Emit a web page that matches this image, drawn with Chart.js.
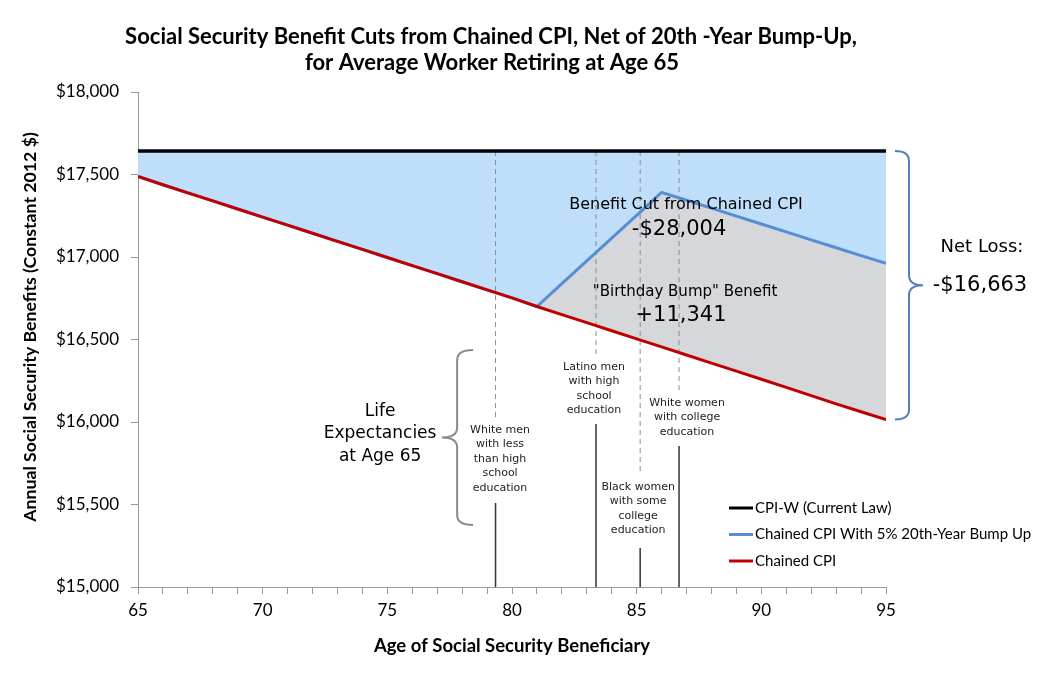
<!DOCTYPE html>
<html>
<head>
<meta charset="utf-8">
<script src="https://cdn.jsdelivr.net/npm/chart.js@4.4.1/dist/chart.umd.min.js"></script>
<style>
  html, body { margin: 0; background: #fff; }
</style>
</head>
<body>
<canvas id="chart" width="1043" height="680"></canvas>
<script>
// data
const ages = [65, 66, 67, 68, 69, 70, 71, 72, 73, 74, 75, 76, 77, 78, 79, 80,
  81, 82, 83, 84, 85, 86, 87, 88, 89, 90, 91, 92, 93, 94, 95];
const cpiW = ages.map(() => 17642);
const chained = [17488, 17438, 17389, 17340, 17291, 17242, 17193, 17144, 17095, 17046, 16997,
  16948, 16899, 16850, 16801, 16752, 16700, 16651, 16602, 16553, 16504, 16455, 16406, 16357,
  16308, 16259, 16210, 16160, 16110, 16062, 16015];
const chainedBump = [17488, 17438, 17389, 17340, 17291, 17242, 17193, 17144, 17095, 17046, 16997,
  16948, 16899, 16850, 16801, 16752, 16700, 16838, 16976, 17114, 17252, 17392, 17344, 17296,
  17248, 17200, 17152, 17104, 17056, 17008, 16962];
const seriesNames = ['CPI-W (Current Law)', 'Chained CPI With 5% 20th-Year Bump Up', 'Chained CPI'];

// life expectancy at 65 by group
const lifeAges = [79.34, 83.37, 85.14, 86.70];
const lifeLabels = [
  ['White men', 'with less', 'than high', 'school', 'education'],
  ['Latino men', 'with high', 'school', 'education'],
  ['Black women', 'with some', 'college', 'education'],
  ['White women', 'with college', 'education']
];
// where the dashed part stops and the solid part starts (value axis)
const dashEnds = [16024, 16394, 15691, 16194];
const solidStarts = [15509, 15988, 15236, 15855];

const netLoss = '-$16,663';
const cutText = '-$28,004';
const bumpText = '+11,341';

const BLACK = '#000000', BLUE = '#558ed5', RED = '#c00000';
const FILL_BLUE = '#bfdefa', FILL_GRAY = '#d5d7da';
const AXIS = '#999999';

const pts = (ys) => ages.map((a, i) => ({ x: a, y: ys[i] }));

// lower order is drawn on top: red over blue over black
const datasets = [
  { label: seriesNames[0], data: pts(cpiW), borderColor: BLACK, borderWidth: 3.5,
    fill: { target: 1 }, backgroundColor: FILL_BLUE, order: 2 },
  { label: seriesNames[1], data: pts(chainedBump), borderColor: BLUE, borderWidth: 3,
    fill: { target: 2 }, backgroundColor: FILL_GRAY, order: 1 },
  { label: seriesNames[2], data: pts(chained), borderColor: RED, borderWidth: 3, fill: false, order: 0 }
];
lifeAges.forEach((a, i) => {
  datasets.push({ label: 'dash' + i, data: [{ x: a, y: cpiW[0] }, { x: a, y: dashEnds[i] }],
    borderColor: '#8c8c8c', borderWidth: 1, borderDash: [5, 4], fill: false, order: 5 });
  datasets.push({ label: 'solid' + i, data: [{ x: a, y: 15000 }, { x: a, y: solidStarts[i] }],
    borderColor: '#333333', borderWidth: 1.5, fill: false, order: 5 });
});

function brace(ctx, spineX, endX, tipX, y1, y2, r) {
  const mid = (y1 + y2) / 2;
  ctx.beginPath();
  ctx.moveTo(endX, y1);
  ctx.quadraticCurveTo(spineX, y1, spineX, y1 + r);
  ctx.lineTo(spineX, mid - r);
  ctx.quadraticCurveTo(spineX, mid, tipX, mid);
  ctx.quadraticCurveTo(spineX, mid, spineX, mid + r);
  ctx.lineTo(spineX, y2 - r);
  ctx.quadraticCurveTo(spineX, y2, endX, y2);
  ctx.stroke();
}

const annotations = {
  id: 'annotations',
  afterDatasetsDraw(chart) {
    const { ctx, chartArea } = chart;
    const px = v => chart.scales.x.getPixelForValue(v);
    const py = v => chart.scales.y.getPixelForValue(v);
    ctx.save();
    ctx.textAlign = 'center';
    ctx.textBaseline = 'middle';
    ctx.fillStyle = '#000';

    ctx.font = '16px "DejaVu Sans"';
    ctx.fillText('Benefit Cut from Chained CPI', px(86.98), py(17315));
    ctx.font = '15px "DejaVu Sans"';
    ctx.fillText('"Birthday Bump" Benefit', px(86.94), py(16788));
    ctx.font = '21px "DejaVu Sans"';
    ctx.fillText(cutText, px(86.70), py(17164));
    ctx.fillText(bumpText, px(86.78), py(16648));

    // small group labels
    ctx.font = '11px "DejaVu Sans"';
    ctx.fillStyle = '#222';
    const labelX = [79.52, 83.29, 85.06, 87.02];
    const labelY = [15952, 16333, 15606, 16115];
    lifeLabels.forEach((lines, i) => {
      lines.forEach((t, j) => ctx.fillText(t, px(labelX[i]), py(labelY[i]) + j * 14.5));
    });

    // life expectancy brace
    ctx.fillStyle = '#000';
    ctx.font = '17px "DejaVu Sans"';
    ['Life', 'Expectancies', 'at Age 65'].forEach((t, j) =>
      ctx.fillText(t, px(74.71), py(15927) + (j - 1) * 22.5));
    ctx.strokeStyle = '#8a8a8a';
    ctx.lineWidth = 2;
    brace(ctx, px(77.80), px(78.44), px(77.19), py(16436), py(15376), 10);

    // net loss brace
    const yTop = py(cpiW[cpiW.length - 1]);
    const yBot = py(chained[chained.length - 1]);
    ctx.strokeStyle = '#4f81bd';
    brace(ctx, chartArea.right + 23, chartArea.right + 9, chartArea.right + 37, yTop, yBot, 10);
    ctx.font = '18px "DejaVu Sans"';
    ctx.fillText('Net Loss:', chartArea.right + 96, yTop + 96);
    ctx.font = '21px "DejaVu Sans"';
    ctx.fillText(netLoss, chartArea.right + 94, (yTop + yBot) / 2);
    ctx.restore();
  },
  afterDraw(chart) {
    const { ctx, chartArea } = chart;
    ctx.save();
    ctx.fillStyle = '#000';
    ctx.textBaseline = 'middle';
    // title
    ctx.textAlign = 'center';
    ctx.font = 'bold 22px Lato';
    ctx.fillText('Social Security Benefit Cuts from Chained CPI, Net of 20th -Year Bump-Up,', 491, 37);
    ctx.fillText('for Average Worker Retiring at Age 65', 492, 63);
    // y title
    ctx.save();
    ctx.translate(30, 327);
    ctx.rotate(-Math.PI / 2);
    ctx.font = 'bold 17.7px Lato';
    ctx.fillText('Annual Social Security Benefits (Constant 2012 $)', 0, 0);
    ctx.restore();
    // legend
    ctx.textAlign = 'left';
    ctx.font = '15px Lato';
    const lx = chartArea.left + 591;
    chart.data.datasets.slice(0, 3).forEach((ds, i) => {
      const y = 508 + i * 26.5;
      ctx.strokeStyle = ds.borderColor;
      ctx.lineWidth = 3;
      ctx.beginPath();
      ctx.moveTo(lx, y);
      ctx.lineTo(lx + 24, y);
      ctx.stroke();
      ctx.fillText(ds.label, lx + 26, y);
    });
    ctx.restore();
  }
};

new Chart(document.getElementById('chart'), {
  type: 'line',
  data: { datasets },
  options: {
    responsive: false,
    animation: false,
    devicePixelRatio: 1,
    layout: { padding: { top: 92, right: 157, left: 0, bottom: 0 } },
    elements: { point: { radius: 0 }, line: { tension: 0 } },
    plugins: {
      legend: { display: false },
      tooltip: { enabled: false },
      filler: { drawTime: 'beforeDatasetsDraw' }
    },
    scales: {
      x: {
        type: 'linear', min: 65, max: 95,
        afterFit: s => { s.height = 93; },
        ticks: {
          stepSize: 1, autoSkip: false, maxRotation: 0, padding: 6,
          color: '#000', font: { family: 'Lato', size: 17 },
          callback: v => (v % 5 === 0 ? v : '')
        },
        grid: { drawOnChartArea: false, tickLength: 7, color: AXIS },
        border: { color: AXIS },
        title: {
          display: true, text: 'Age of Social Security Beneficiary', color: '#000',
          font: { family: 'Lato', size: 18.5, weight: 'bold' }, padding: { bottom: 23 }
        }
      },
      y: {
        min: 15000, max: 18000,
        afterFit: s => { s.width = 138; },
        ticks: {
          stepSize: 500, padding: 12, color: '#000', font: { family: 'Lato', size: 17 },
          callback: v => '$' + v.toLocaleString('en-US')
        },
        grid: { drawOnChartArea: false, tickLength: 7, color: AXIS },
        border: { color: AXIS }
      }
    }
  },
  plugins: [annotations]
});
</script>
</body>
</html>
